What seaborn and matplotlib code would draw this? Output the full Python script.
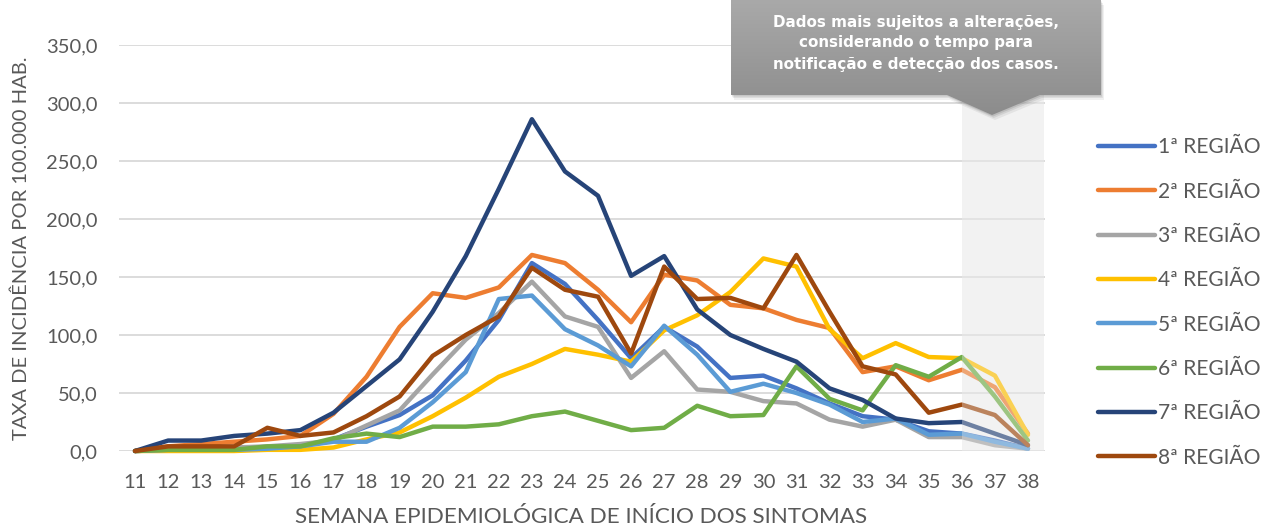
import numpy as np
import pandas as pd
import matplotlib
matplotlib.use("Agg")
import matplotlib.pyplot as plt
import seaborn as sns
from matplotlib.patches import Polygon

weeks = list(range(11, 39))
regions = ["1ª REGIÃO", "2ª REGIÃO", "3ª REGIÃO", "4ª REGIÃO",
           "5ª REGIÃO", "6ª REGIÃO", "7ª REGIÃO", "8ª REGIÃO"]
r1 = [0, 1, 1, 1, 2, 4, 10, 21, 31, 48, 78, 113, 162, 144, 113, 80, 107, 90, 63, 65, 54, 41, 30, 27, 17, 15, 9, 2]
r2 = [0, 4, 6, 8, 10, 13, 32, 64, 107, 136, 132, 141, 169, 162, 139, 111, 152, 147, 126, 123, 113, 106, 68, 73, 61, 70, 55, 15]
r3 = [0, 1, 2, 3, 4, 6, 9, 22, 35, 66, 96, 119, 146, 116, 107, 63, 86, 53, 51, 43, 41, 27, 21, 27, 12, 12, 5, 2]
r4 = [0, 0, 0, 0, 1, 1, 3, 10, 16, 30, 46, 64, 75, 88, 83, 77, 104, 117, 137, 166, 159, 105, 80, 93, 81, 80, 65, 14]
r5 = [0, 1, 1, 1, 2, 4, 8, 8, 20, 42, 68, 131, 134, 105, 91, 73, 108, 83, 51, 58, 50, 40, 25, 28, 14, 15, 8, 2]
r6 = [0, 1, 1, 1, 4, 4, 11, 15, 12, 21, 21, 23, 30, 34, 26, 18, 20, 39, 30, 31, 73, 45, 35, 74, 64, 81, 47, 9]
r7 = [0, 9, 9, 13, 15, 18, 33, 56, 79, 120, 168, 226, 286, 241, 220, 151, 168, 122, 100, 88, 77, 54, 44, 28, 24, 25, 15, 5]
r8 = [0, 4, 4, 4, 20, 13, 16, 30, 47, 82, 100, 116, 158, 139, 133, 84, 159, 131, 132, 123, 169, 120, 73, 66, 33, 40, 31, 5]
series = [r1, r2, r3, r4, r5, r6, r7, r8]
colors = ["#4472C4", "#ED7D31", "#A5A5A5", "#FFC000",
          "#5B9BD5", "#70AD47", "#264478", "#9E480E"]
y_ticks = [0, 50, 100, 150, 200, 250, 300, 350]
shade_start = 36
callout_text = "Dados mais sujeitos a alterações,\nconsiderando o tempo para\nnotificação e detecção dos casos."
xlabel = "SEMANA EPIDEMIOLÓGICA DE INÍCIO DOS SINTOMAS"
ylabel = "TAXA DE INCIDÊNCIA POR 100.000 HAB."

df = pd.DataFrame({
    "semana": np.tile(weeks, len(regions)),
    "taxa": np.concatenate(series),
    "regiao": np.repeat(regions, len(weeks)),
})

sns.set_theme(style="white")
plt.rcParams["font.family"] = ["Lato", "DejaVu Sans"]
tc = "#595959"

fig = plt.figure(figsize=(12.61, 5.30), dpi=100)
ax = fig.add_axes([118.5 / 1261, 1 - 451 / 530, (1044.5 - 118.5) / 1261, (451 - 45) / 530])

ax.axvspan(shade_start, 38.5, color="#f2f2f2", zorder=0, lw=0)
sns.lineplot(data=df, x="semana", y="taxa", hue="regiao", palette=colors,
             hue_order=regions, lw=3.2, ax=ax, zorder=2, clip_on=False,
             solid_joinstyle="round", solid_capstyle="round")
ax.axvspan(shade_start, 38.5, color="#f2f2f2", alpha=0.35, zorder=3, lw=0)

ax.set_xlim(10.5, 38.5)
ax.set_ylim(0, 350)
ax.set_yticks(y_ticks)
ax.set_yticklabels([f"{v:.1f}".replace(".", ",") for v in y_ticks])
ax.set_xticks(weeks)
ax.set_xticklabels([str(w) for w in weeks])
ax.grid(axis="y", color="#d9d9d9", lw=1.3, zorder=1)
ax.set_axisbelow(True)
for s in ax.spines.values():
    s.set_visible(False)
ax.tick_params(axis="both", length=0, colors=tc, labelsize=14.5)
ax.tick_params(axis="x", pad=16.5)
ax.tick_params(axis="y", pad=15)
ax.set_xlabel(xlabel, color=tc, fontsize=16.2, labelpad=11.5)
ax.set_ylabel(ylabel, color=tc, fontsize=14.5, labelpad=11)
ax.yaxis.set_label_coords(-88 / 926, 0.5)

handles, labels = ax.get_legend_handles_labels()
ax.get_legend().remove()
leg = fig.legend(handles, labels, loc="upper left", bbox_to_anchor=(1090 / 1261, 1 - 129 / 530),
                 frameon=False, fontsize=15.1, handlelength=2.7, handletextpad=0.12,
                 labelspacing=1.16, borderaxespad=0)
for t in leg.get_texts():
    t.set_color(tc)
for h in leg.get_lines():
    h.set_linewidth(3.2)
    h.set_solid_capstyle("round")

# callout overlay
ov = fig.add_axes([0, 0, 1, 1], facecolor="none")
ov.set_xlim(0, 1261)
ov.set_ylim(530, 0)
ov.axis("off")
pts = [(731, 0), (1101, 0), (1101, 95), (1040, 95), (992, 115), (947, 95), (731, 95)]
for off, a in [(5, 0.06), (3, 0.08), (1.5, 0.1)]:
    ov.add_patch(Polygon([(x + off * 0.6, y + off) for x, y in pts], closed=True,
                         fc="#000000", alpha=a, lw=0))
poly = Polygon(pts, closed=True, fc="none", lw=0)
ov.add_patch(poly)
grad = np.linspace(0, 1, 256).reshape(-1, 1)
im = ov.imshow(grad, cmap=matplotlib.colors.LinearSegmentedColormap.from_list("g", ["#a9a9a9", "#8c8c8c"]),
               extent=(731, 1101, 115, 0), aspect="auto", zorder=5)
im.set_clip_path(poly)
ov.text(916, 43, callout_text, ha="center", va="center", color="white",
        fontsize=10.9, fontweight="bold", family="DejaVu Sans", linespacing=1.5, zorder=6)

fig.savefig("out.png", dpi=100)
